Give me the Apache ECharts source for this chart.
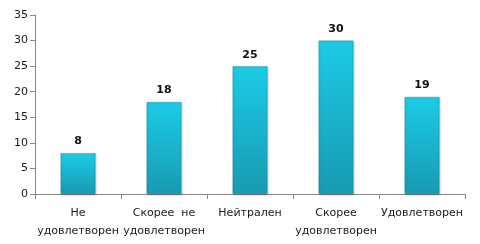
<!DOCTYPE html>
<html><head><meta charset="utf-8">
<script src="https://cdn.jsdelivr.net/npm/echarts@6/dist/echarts.min.js"></script>
<style>html,body{margin:0;padding:0;background:#fff}#c{width:480px;height:244px}</style>
</head><body><div id="c"></div>
<script>
const categories = ['Не\nудовлетворен', 'Скорее  не\nудовлетворен', 'Нейтрален', 'Скорее\nудовлетворен', 'Удовлетворен'];
const values = [8, 18, 25, 30, 19];
const yTicks = [0, 5, 10, 15, 20, 25, 30, 35];

const chart = echarts.init(document.getElementById('c'), null, {renderer: 'canvas'});
chart.setOption({
  animation: false,
  grid: {left: 35, right: 15, top: 15, bottom: 50},
  xAxis: {
    type: 'category', data: categories,
    axisLine: {lineStyle: {color: '#898989'}},
    axisTick: {show: true, length: 5, lineStyle: {color: '#898989'}},
    axisLabel: {color: '#1a1a1a', fontFamily: 'DejaVu Sans', fontSize: 11, lineHeight: 18, margin: 10, interval: 0}
  },
  yAxis: {
    type: 'value', min: 0, max: 35, interval: 5,
    axisLine: {show: true, lineStyle: {color: '#898989'}},
    axisTick: {show: true, length: 5, lineStyle: {color: '#898989'}},
    splitLine: {show: false},
    axisLabel: {color: '#1a1a1a', fontFamily: 'DejaVu Sans', fontSize: 11, margin: 7,
      formatter: v => yTicks.includes(v) ? String(v) : ''}
  },
  series: [{
    type: 'bar', data: values, barWidth: 35,
    itemStyle: {
      color: new echarts.graphic.LinearGradient(0, 0, 0, 1, [
        {offset: 0, color: '#1ccbe6'},
        {offset: 1, color: '#189ab2'}
      ]),
      borderColor: 'rgba(10,110,130,0.5)', borderWidth: 0.6,
      shadowColor: 'rgba(0,0,0,0.25)', shadowBlur: 2, shadowOffsetX: 1, shadowOffsetY: 1
    },
    label: {show: true, position: 'top', distance: 6, color: '#111', fontFamily: 'DejaVu Sans', fontWeight: 'bold', fontSize: 11}
  }]
});
</script></body></html>
